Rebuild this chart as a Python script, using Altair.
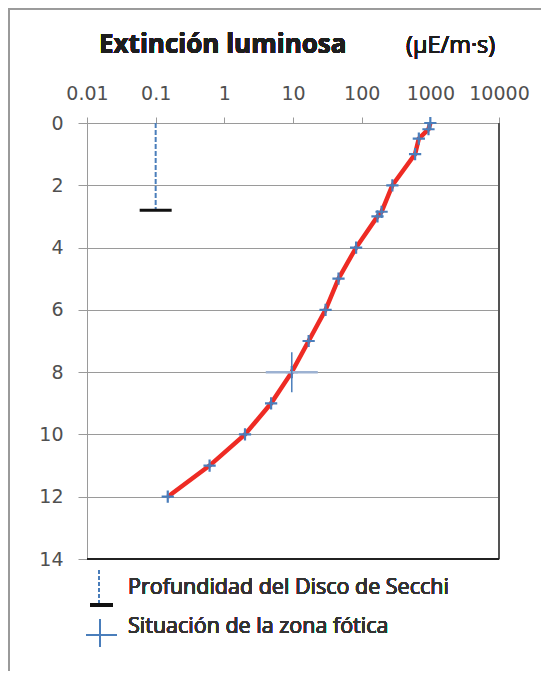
import altair as alt
import pandas as pd

# ---- data ----
depth = [0, 0.2, 0.5, 1, 2, 2.85, 3, 4, 5, 6, 7, 8, 9, 10, 11, 12]
light = [1000, 940, 680, 600, 280, 195, 170, 83, 46, 29.8, 16.9, 9.6, 4.8, 2.0, 0.61, 0.15]

secchi_x = [0.1]
secchi_depth = [2.8]
photic_x = [9.6]
photic_depth = [8]

x_ticks = [0.01, 0.1, 1, 10, 100, 1000, 10000]
y_ticks = [0, 2, 4, 6, 8, 10, 12, 14]

title_main = "Extinción luminosa"
title_unit = "(μE/m·s)"
legend_labels = ["Profundidad del Disco de Secchi", "Situación de la zona fótica"]

W, H = 412, 436
TICK_FONT = "DejaVu Sans"
TEXT_FONT = "Open Sans"

df = pd.DataFrame({"depth": depth, "light": light})
sec = pd.DataFrame({"x": secchi_x, "top": [0], "depth": secchi_depth})
pho = pd.DataFrame({"x": photic_x, "depth": photic_depth})

xscale = alt.Scale(type="log", domain=[0.01, 10000], nice=False)
yscale = alt.Scale(domain=[0, 14], reverse=True, nice=False)

xaxis = alt.Axis(orient="top", values=x_ticks, format="~g", title=None, grid=False,
                 domain=True, domainColor="#9a9a9a", ticks=True, tickSize=6, tickColor="#9a9a9a",
                 labelFont=TICK_FONT, labelFontSize=19, labelFontWeight="normal",
                 labelColor="#505050", labelPadding=14, labelFlush=False, labelOverlap=False)
yaxis = alt.Axis(orient="left", values=y_ticks, title=None, grid=True, gridColor="#9a9a9a",
                 gridWidth=1, domain=True, domainColor="#9a9a9a", ticks=True, tickSize=9,
                 tickColor="#9a9a9a", labelFont=TICK_FONT, labelFontSize=19,
                 labelFontWeight="normal", labelColor="#505050", labelPadding=15)

base = alt.Chart(df)

line = base.mark_line(color="#ee2b24", strokeWidth=4.5).encode(
    x=alt.X("light:Q", scale=xscale, axis=xaxis),
    y=alt.Y("depth:Q", scale=yscale, axis=yaxis),
    order=alt.Order("depth:Q"),
)

PLUS = "M-1,0L1,0M0,-1L0,1"
HBAR = "M-1,0L1,0"
VBAR = "M0,-1L0,1"

pts = base.mark_point(shape=PLUS, size=150, filled=False, color="#4a7ebb", strokeWidth=2.2,
                      opacity=1).encode(x="light:Q", y="depth:Q")

sec_line = alt.Chart(sec).mark_rule(color="#4a7ebb", strokeWidth=2, strokeDash=[5, 2]).encode(
    x="x:Q", y="top:Q", y2="depth:Q")
sec_bar = alt.Chart(sec).mark_point(shape=HBAR, size=32 * 32, filled=False, color="#111111",
                                    strokeWidth=3, opacity=1).encode(x="x:Q", y="depth:Q")

pho_h = alt.Chart(pho).mark_point(shape=HBAR, size=52 * 52, filled=False, color="#9db2d2",
                                  strokeWidth=2.5, opacity=1).encode(x="x:Q", y="depth:Q")
pho_v = alt.Chart(pho).mark_point(shape=VBAR, size=40 * 40, filled=False, color="#4a7ebb",
                                  strokeWidth=1.5, opacity=1).encode(x="x:Q", y="depth:Q")

# plot frame: right (dark) and bottom (black)
frame_right = alt.Chart(df).mark_rule(color="#555555", strokeWidth=1.5).encode(
    x=alt.value(W), y=alt.value(0), y2=alt.value(H))
frame_bottom = alt.Chart(df).mark_rule(color="#222222", strokeWidth=1.5).encode(
    x=alt.value(0), x2=alt.value(W), y=alt.value(H))

# outer picture border (left and top)
outer_left = alt.Chart(df).mark_rule(color="#9a9a9a", strokeWidth=2).encode(
    x=alt.value(-78), y=alt.value(-116), y2=alt.value(H + 112))
outer_top = alt.Chart(df).mark_rule(color="#9a9a9a", strokeWidth=1.5).encode(
    x=alt.value(-79), x2=alt.value(W + 60), y=alt.value(-114.5))

# title
t1 = alt.Chart(df).mark_text(text=title_main, font=TEXT_FONT, fontSize=26, fontWeight="bold",
                             color="#1e1e1e", align="left", baseline="alphabetic").encode(
    x=alt.value(12), y=alt.value(-70))
t2 = alt.Chart(df).mark_text(text=title_unit, font=TEXT_FONT, fontSize=23.5, fontWeight="normal",
                             color="#1e1e1e", align="left", baseline="alphabetic").encode(
    x=alt.value(319), y=alt.value(-70))

# legend
lg_dash = alt.Chart(df).mark_rule(color="#4a7ebb", strokeWidth=1.5, strokeDash=[4, 2]).encode(
    x=alt.value(12), y=alt.value(447), y2=alt.value(480))
lg_bar = alt.Chart(df).mark_rule(color="#111111", strokeWidth=3).encode(
    x=alt.value(3), x2=alt.value(26), y=alt.value(482))
lg_ch = alt.Chart(df).mark_rule(color="#4a7ebb", strokeWidth=2).encode(
    x=alt.value(-1), x2=alt.value(30), y=alt.value(512))
lg_cv = alt.Chart(df).mark_rule(color="#4a7ebb", strokeWidth=1.5).encode(
    x=alt.value(13), y=alt.value(496), y2=alt.value(524))
lg_t1 = alt.Chart(df).mark_text(text=legend_labels[0], font=TEXT_FONT, fontSize=21.5,
                                fontWeight="normal", color="#333333",
                                align="left", baseline="middle").encode(
    x=alt.value(41), y=alt.value(465))
lg_t2 = alt.Chart(df).mark_text(text=legend_labels[1], font=TEXT_FONT, fontSize=21.5,
                                fontWeight="normal", color="#333333",
                                align="left", baseline="middle").encode(
    x=alt.value(41), y=alt.value(504))

chart = alt.layer(
    line, pts, sec_line, sec_bar, pho_h, pho_v, frame_right, frame_bottom,
    outer_left, outer_top, t1, t2, lg_dash, lg_bar, lg_ch, lg_cv, lg_t1, lg_t2,
).properties(
    width=W, height=H,
    autosize=alt.AutoSizeParams(type="none"),
    padding={"left": 79, "top": 115, "right": 42, "bottom": 112},
).configure_view(stroke=None).configure(background="white")

chart.save("out.html", embed_options={"renderer": "svg", "actions": False})
